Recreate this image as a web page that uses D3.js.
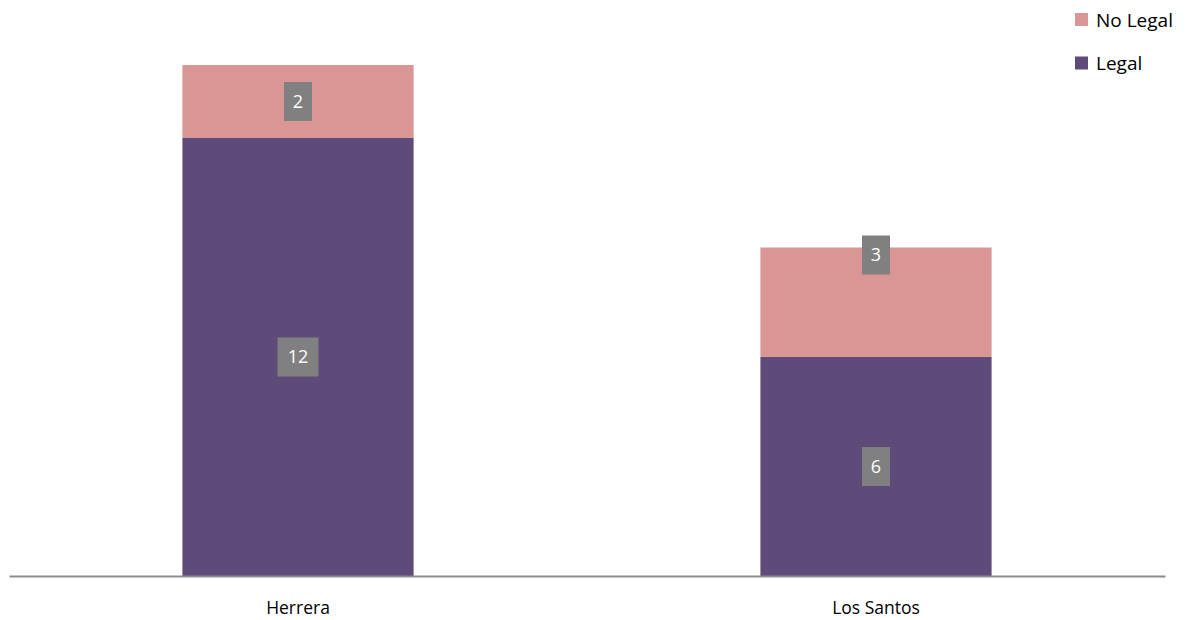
<!DOCTYPE html>
<html><head><meta charset="utf-8">
<script src="https://cdn.jsdelivr.net/npm/d3@7"></script>
<style>body{margin:0;background:#fff}svg{display:block}text{font-family:"Open Sans",Lato,sans-serif}</style>
</head><body><svg id="c" width="1186" height="620"></svg>
<script>
const categories = ["Herrera", "Los Santos"];
const seriesNames = ["Legal", "No Legal"];
const legalValues = [12, 6];
const noLegalValues = [2, 3];
const colors = {"Legal": "#5f4b79", "No Legal": "#d99694"};

const svg = d3.select("#c");
const W = 1186, H = 620;
const m = {left: 9, right: 21, top: 20, bottom: 44};
const x = d3.scaleBand().domain(categories).range([m.left, W - m.right]).paddingInner(0.6).paddingOuter(0.3);
const y = d3.scaleLinear().domain([0, 15]).range([H - m.bottom, H - m.bottom - 15 * 36.5]);

const data = categories.map((c, i) => ({cat: c, "Legal": legalValues[i], "No Legal": noLegalValues[i]}));
const stacked = d3.stack().keys(seriesNames)(data);

const g = svg.append("g");
stacked.forEach(s => {
  g.selectAll(null).data(s).enter().append("rect")
    .attr("x", d => x(d.data.cat))
    .attr("width", x.bandwidth())
    .attr("y", d => y(d[1]))
    .attr("height", d => y(d[0]) - y(d[1]))
    .attr("fill", colors[s.key]);
});

// axis
const ax = svg.append("g").attr("transform", `translate(0,${y(0)})`)
  .call(d3.axisBottom(x).tickSize(0).tickPadding(26));
ax.select(".domain").attr("stroke", "#8c8c8c").attr("stroke-width", 2);
ax.selectAll("text").attr("font-size", 17.5).attr("fill", "#000").attr("font-family", '"Open Sans",Lato,sans-serif');

// labels
stacked.forEach(s => {
  s.forEach((d, i) => {
    const val = d[1] - d[0];
    const cx = x(d.data.cat) + x.bandwidth() / 2;
    let cy = (y(d[0]) + y(d[1])) / 2;
    if (s.key === "No Legal" && i === 1) cy = y(d[1]) + 7.5;
    const txt = String(val);
    const bw = txt.length > 1 ? 41 : 28;
    g.append("rect").attr("x", cx - bw / 2).attr("y", cy - 19.5).attr("width", bw).attr("height", 39).attr("fill", "#808080");
    g.append("text").attr("x", cx).attr("y", cy).attr("dy", "0.35em").attr("text-anchor", "middle")
      .attr("font-size", 18).attr("fill", "#fff").text(txt);
  });
});

// legend
const legItems = ["No Legal", "Legal"];
const lg = svg.append("g").attr("transform", "translate(1075,13)");
legItems.forEach((k, i) => {
  const row = lg.append("g").attr("transform", `translate(0,${i * 43.5})`);
  row.append("rect").attr("width", 13).attr("height", 13).attr("fill", colors[k]);
  row.append("text").attr("x", 21).attr("y", 7).attr("dy", "0.36em").attr("font-size", 19).attr("fill", "#000").text(k);
});
</script></body></html>
